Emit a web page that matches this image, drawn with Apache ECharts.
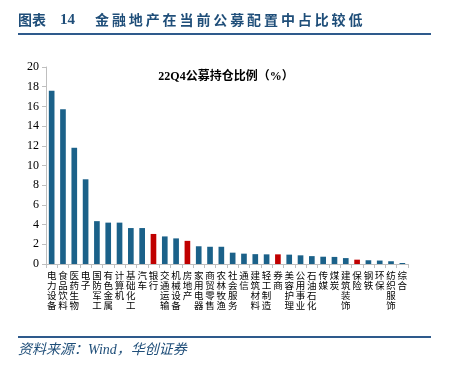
<!DOCTYPE html>
<html><head><meta charset="utf-8">
<script src="https://cdn.jsdelivr.net/npm/echarts@6/dist/echarts.min.js"></script>
<style>html,body{margin:0;padding:0;background:#fff}#c{width:451px;height:373px}</style>
</head><body><div id="c"></div>
<script>
const categories = ['电力设备','食品饮料','医药生物','电子','国防军工','有色金属','计算机','基础化工','汽车','银行','交通运输','机械设备','房地产','家用电器','商贸零售','农林牧渔','社会服务','通信','建筑材料','轻工制造','券商','美容护理','公用事业','石油石化','传媒','煤炭','建筑装饰','保险','钢铁','环保','纺织服饰','综合'];
const values = [17.6,15.7,11.8,8.6,4.35,4.2,4.2,3.65,3.65,3.05,2.8,2.6,2.35,1.8,1.75,1.75,1.15,1.05,1.0,0.98,0.98,0.95,0.88,0.8,0.74,0.72,0.6,0.44,0.38,0.35,0.28,0.1];
const highlighted = ['银行','房地产','券商','保险'];
const yTicks = {min:0, max:20, interval:2};
const BLUE = '#1b6189', RED = '#c00000';
const headline = '金融地产在当前公募配置中占比较低';
const chart = echarts.init(document.getElementById('c'));
const headChars = headline.split('').map((ch,i)=>({type:'text', left:95+i*16.9, top:13,
  style:{text:ch, font:'bold 14px "Noto Sans CJK SC"', fill:'#1f4e79'}}));
chart.setOption({
  animation:false,
  grid:{left:46, right:43, top:67, bottom:109, containLabel:false},
  title:{text:'22Q4公募持仓比例（%）', left:221, textAlign:'center', top:66,
    textStyle:{fontSize:12, fontWeight:'bold', color:'#000', fontFamily:'Liberation Serif, Noto Sans CJK SC'}},
  xAxis:{type:'category', data:categories,
    axisLine:{lineStyle:{color:'#bfbfbf'}},
    axisTick:{show:true, alignWithLabel:false, length:4, lineStyle:{color:'#bfbfbf'}},
    axisLabel:{interval:0, margin:6, fontSize:9.5, lineHeight:10, color:'#000',
      fontFamily:'Noto Sans CJK SC', verticalAlign:'top',
      formatter:v=>v.split('').join('\n')}},
  yAxis:{type:'value', min:yTicks.min, max:yTicks.max, interval:yTicks.interval,
    splitLine:{show:false},
    axisLine:{show:true, lineStyle:{color:'#bfbfbf'}},
    axisTick:{show:true, length:4, lineStyle:{color:'#bfbfbf'}},
    axisLabel:{fontSize:12, color:'#000', fontFamily:'Liberation Serif', margin:7}},
  series:[{type:'bar', barWidth:'50%',
    data:values.map((v,i)=>({value:v, itemStyle:{color: highlighted.includes(categories[i])?RED:BLUE}}))}],
  graphic:[
    {type:'text', left:18, top:13, style:{text:'图表', font:'bold 14px "Noto Sans CJK SC"', fill:'#1f4e79'}},
    {type:'text', left:60, top:13, style:{text:'14', font:'bold 15px "Liberation Serif"', fill:'#1f4e79'}},
    ...headChars,
    {type:'line', shape:{x1:18,y1:34,x2:431,y2:34}, style:{stroke:'#2e5a8c', lineWidth:2}},
    {type:'line', shape:{x1:18,y1:337,x2:431,y2:337}, style:{stroke:'#2e5a8c', lineWidth:2}},
    {type:'text', left:18, top:343, style:{text:'资料来源：Wind，华创证券', font:'italic 14px "Liberation Serif", "Noto Sans CJK SC"', fill:'#1f4e79'}}
  ]
});
</script></body></html>
